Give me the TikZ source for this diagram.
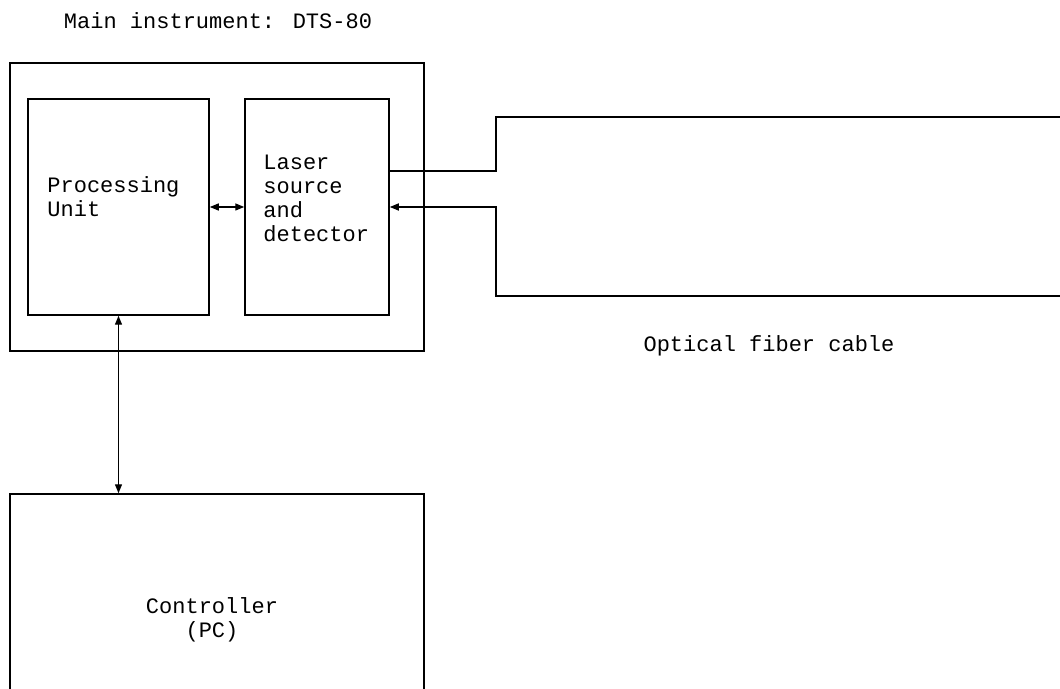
\documentclass[tikz,border=0pt]{standalone}
\usepackage{fontspec}
\setmainfont{Liberation Mono}
\usetikzlibrary{arrows.meta}

\tikzset{
  unitbox/.style = {draw, line width=0.75pt, inner sep=0pt},
  lbl/.style = {font=\fontsize{11}{12}\selectfont, align=left, inner sep=0pt},
  sig/.style = {line width=0.7pt, {Triangle[length=4.5pt,width=3.5pt]}-{Triangle[length=4.5pt,width=3.5pt]}},
  sigin/.style = {line width=0.75pt, -{Triangle[length=4.5pt,width=3.5pt]}},
  fiber/.style = {line width=0.75pt}
}

\begin{document}
\begin{tikzpicture}[x=0.5pt, y=-0.5pt]
\useasboundingbox (0,0) rectangle (1060,689);
\clip (0,0) rectangle (1060,689);
% main instrument
\path (218,21) node[lbl] (title) {Main instrument: DTS-80};
\path (217,207) node[unitbox, minimum width=207pt, minimum height=144pt] (dts) {};
\path (118.5,207) node[unitbox, minimum width=90.5pt, minimum height=108pt] (pu) {};
\path (317,207) node[unitbox, minimum width=72pt, minimum height=108pt] (lsd) {};
\path (47,197) node[lbl, anchor=west] (putext) {Processing\\Unit};
\path (263,198) node[lbl, anchor=west] (lsdtext) {Laser\\source\\and\\detector};
\draw[sig] (pu.east) -- (lsd.west);

% optical fiber
\coordinate (fout) at (496,171);
\coordinate (fin) at (496,207);
\draw[fiber] (lsd.east |- fout) -- (fout) -- (496,117) -- (1060,117);
\draw[sigin] (1060,296) -- (496,296) -- (fin) -- (lsd.east |- fin);
\path (769,346) node[lbl] (fibertext) {Optical fiber cable};

% controller
\path (217,614) node[unitbox, minimum width=207pt, minimum height=120pt] (ctrl) {};
\path (212,620) node[lbl, align=center] (ctrltext) {Controller\\(PC)};
\draw[sig] (pu.south) -- (pu.south |- ctrl.north);
\end{tikzpicture}
\end{document}
